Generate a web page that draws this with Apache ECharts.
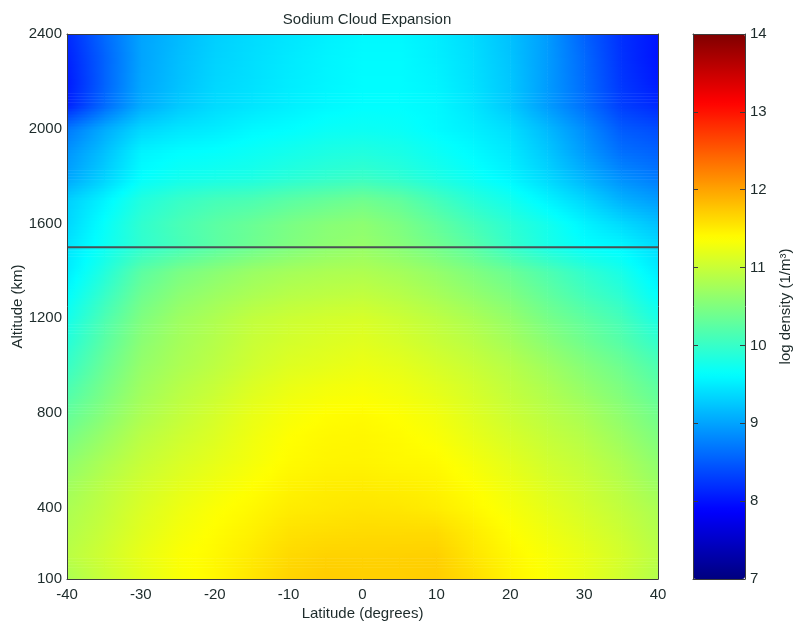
<!DOCTYPE html>
<html>
<head>
<meta charset="utf-8">
<script src="https://cdn.jsdelivr.net/npm/echarts@6/dist/echarts.min.js"></script>
<style>
  html, body { margin: 0; padding: 0; background: #fff; }
  #chart { width: 798px; height: 627px; }
</style>
</head>
<body>
<div id="chart"></div>
<script>
  // latitude nodes (degrees) and altitude nodes (km)
  var lats = [-40, -35, -30, -25, -20, -15, -10, -5, 0, 5, 10, 15, 20, 25, 30, 35, 40];
  var alts = [100, 200, 300, 400, 500, 600, 700, 800, 900, 1000, 1100, 1200,
              1300, 1400, 1500, 1600, 1700, 1800, 1900, 2000, 2100, 2200, 2300, 2400];
  // log density, one row per altitude (100 km first)
  var densityRows = [
    [10.80, 11.00, 11.18, 11.33, 11.42, 11.55, 11.67, 11.72, 11.70, 11.70, 11.72, 11.60, 11.45, 11.35, 11.22, 11.05, 10.85], // 100
    [10.90, 11.05, 11.22, 11.35, 11.42, 11.52, 11.63, 11.68, 11.68, 11.69, 11.70, 11.55, 11.43, 11.33, 11.22, 11.08, 10.90], // 200
    [10.85, 11.00, 11.17, 11.30, 11.39, 11.47, 11.57, 11.60, 11.62, 11.62, 11.62, 11.50, 11.38, 11.27, 11.15, 11.02, 10.85], // 300
    [10.80, 10.95, 11.12, 11.25, 11.35, 11.42, 11.50, 11.53, 11.55, 11.54, 11.50, 11.42, 11.32, 11.20, 11.08, 10.95, 10.80], // 400
    [10.72, 10.90, 11.06, 11.18, 11.28, 11.37, 11.45, 11.49, 11.50, 11.48, 11.45, 11.37, 11.26, 11.13, 11.02, 10.88, 10.70], // 500
    [10.60, 10.80, 10.98, 11.10, 11.20, 11.30, 11.40, 11.44, 11.45, 11.42, 11.40, 11.30, 11.18, 11.05, 10.95, 10.80, 10.60], // 600
    [10.45, 10.68, 10.90, 11.03, 11.14, 11.27, 11.37, 11.42, 11.43, 11.40, 11.34, 11.22, 11.10, 10.98, 10.87, 10.70, 10.50], // 700
    [10.30, 10.55, 10.80, 10.95, 11.08, 11.22, 11.32, 11.38, 11.40, 11.36, 11.28, 11.15, 11.02, 10.90, 10.78, 10.60, 10.40], // 800
    [10.15, 10.45, 10.72, 10.88, 11.00, 11.14, 11.24, 11.30, 11.33, 11.28, 11.19, 11.08, 10.95, 10.82, 10.66, 10.49, 10.28], // 900
    [10.00, 10.35, 10.65, 10.80, 10.92, 11.05, 11.15, 11.20, 11.25, 11.20, 11.10, 11.00, 10.88, 10.72, 10.55, 10.38, 10.15], // 1000
    [ 9.88, 10.25, 10.58, 10.75, 10.87, 11.00, 11.08, 11.13, 11.17, 11.10, 11.00, 10.90, 10.76, 10.58, 10.40, 10.22,  9.98], // 1100
    [ 9.75, 10.15, 10.50, 10.70, 10.82, 10.95, 11.02, 11.07, 11.10, 11.02, 10.92, 10.80, 10.65, 10.45, 10.28, 10.10,  9.80], // 1200
    [ 9.62, 10.00, 10.38, 10.58, 10.70, 10.80, 10.88, 10.92, 10.95, 10.88, 10.77, 10.64, 10.50, 10.30, 10.10,  9.93,  9.63], // 1300
    [ 9.50,  9.85, 10.25, 10.45, 10.57, 10.68, 10.75, 10.80, 10.82, 10.75, 10.64, 10.50, 10.35, 10.16,  9.96,  9.78,  9.50], // 1400
    [ 9.45,  9.70,  9.95, 10.10, 10.25, 10.38, 10.50, 10.60, 10.66, 10.56, 10.42, 10.24, 10.00,  9.80,  9.65,  9.58,  9.40], // 1500
    [ 9.35,  9.65,  9.95, 10.12, 10.25, 10.35, 10.46, 10.55, 10.60, 10.48, 10.30, 10.10,  9.92,  9.75,  9.55,  9.38,  9.20], // 1600
    [ 9.30,  9.55,  9.85, 10.00, 10.10, 10.15, 10.25, 10.33, 10.40, 10.30, 10.10,  9.90,  9.75,  9.55,  9.35,  9.10,  8.95], // 1700
    [ 9.00,  9.30,  9.62,  9.72,  9.76,  9.80,  9.88,  9.95, 10.00,  9.92,  9.80,  9.68,  9.55,  9.35,  9.10,  8.85,  8.70], // 1800
    [ 8.90,  9.20,  9.55,  9.62,  9.65,  9.70,  9.76,  9.82,  9.85,  9.80,  9.70,  9.60,  9.48,  9.25,  8.95,  8.65,  8.55], // 1900
    [ 8.70,  9.05,  9.35,  9.45,  9.50,  9.58,  9.62,  9.68,  9.70,  9.68,  9.60,  9.52,  9.40,  9.15,  8.85,  8.50,  8.40], // 2000
    [ 8.10,  8.60,  9.05,  9.25,  9.38,  9.45,  9.52,  9.58,  9.62,  9.62,  9.58,  9.45,  9.25,  8.95,  8.65,  8.30,  8.15], // 2100
    [ 8.05,  8.55,  9.02,  9.20,  9.35,  9.42,  9.50,  9.56,  9.61,  9.61,  9.55,  9.42,  9.24,  8.95,  8.62,  8.25,  8.05], // 2200
    [ 8.10,  8.55,  9.00,  9.18,  9.32,  9.40,  9.48,  9.55,  9.60,  9.60,  9.52,  9.40,  9.22,  8.95,  8.60,  8.22,  8.00], // 2300
    [ 8.15,  8.60,  9.00,  9.15,  9.30,  9.38,  9.45,  9.52,  9.58,  9.58,  9.50,  9.38,  9.20,  8.95,  8.55,  8.20,  8.00]  // 2400
  ];
  var boundaryAlt = 1500;           // horizontal marker line (km)
  var yTickValues = [100, 400, 800, 1200, 1600, 2000, 2400];
  var densityMin = 7, densityMax = 14;

  // matlab jet colormap anchors
  var jetColors = ['#00007f', '#0000ff', '#007fff', '#00ffff', '#7fff7f',
                   '#ffff00', '#ff7f00', '#ff0000', '#7f0000'];
  var jetRgb = jetColors.map(function (c) {
    return [parseInt(c.substr(1, 2), 16), parseInt(c.substr(3, 2), 16), parseInt(c.substr(5, 2), 16)];
  });
  function jet(v) {
    var t = (v - densityMin) / (densityMax - densityMin);
    t = Math.max(0, Math.min(1, t)) * (jetRgb.length - 1);
    var k = Math.min(Math.floor(t), jetRgb.length - 2);
    var f = t - k;
    var a = jetRgb[k], b = jetRgb[k + 1];
    return 'rgb(' + Math.round(a[0] + (b[0] - a[0]) * f) + ',' +
      Math.round(a[1] + (b[1] - a[1]) * f) + ',' +
      Math.round(a[2] + (b[2] - a[2]) * f) + ')';
  }

  var nodes = [];
  for (var j = 0; j < alts.length; j++) {
    for (var i = 0; i < lats.length; i++) {
      nodes.push([lats[i], alts[j], densityRows[j][i], i, j]);
    }
  }

  // shaded (interp) cell between four nodes
  function renderCell(params, api) {
    var i = api.value(3), j = api.value(4);
    if (i >= lats.length - 1 || j >= alts.length - 1) return null;
    var p0 = api.coord([lats[i], alts[j]]);
    var p1 = api.coord([lats[i + 1], alts[j + 1]]);
    var v00 = densityRows[j][i], v10 = densityRows[j][i + 1];
    var v01 = densityRows[j + 1][i], v11 = densityRows[j + 1][i + 1];
    var n = 8;
    var h = (p0[1] - p1[1]) / n;
    var w = p1[0] - p0[0];
    var kids = [];
    for (var k = 0; k < n; k++) {
      var f = (k + 0.5) / n;
      var vl = v00 + (v01 - v00) * f;
      var vr = v10 + (v11 - v10) * f;
      var stops = [];
      for (var s = 0; s <= 4; s++) {
        stops.push({ offset: s / 4, color: jet(vl + (vr - vl) * s / 4) });
      }
      kids.push({
        type: 'rect',
        shape: { x: p0[0], y: p0[1] - (k + 1) * h, width: w + 0.6, height: h + 0.6 },
        style: { fill: new echarts.graphic.LinearGradient(0, 0, 1, 0, stops) },
        silent: true
      });
    }
    return { type: 'group', children: kids };
  }

  var txt = '#1d2b2b';
  var font = 'Liberation Sans, Arial, sans-serif';
  var frame = '#3c3c3c';
  var plain = function (v) { return String(v); };

  var chart = echarts.init(document.getElementById('chart'));
  chart.setOption({
    animation: false,
    backgroundColor: '#fff',
    textStyle: { fontFamily: font },
    title: {
      text: 'Sodium Cloud Expansion',
      left: 362, top: 7, textAlign: 'center',
      textStyle: { fontSize: 15, fontWeight: 'normal', color: txt, fontFamily: font }
    },
    grid: [
      { left: 67, top: 34, width: 591, height: 545, outerBoundsMode: 'none', containLabel: false },
      { left: 693, top: 34, width: 52, height: 545, outerBoundsMode: 'none', containLabel: false }
    ],
    xAxis: [
      {
        gridIndex: 0, type: 'value', min: -40, max: 40, interval: 10,
        name: 'Latitude (degrees)', nameLocation: 'middle', nameGap: 27, nameMoveOverlap: false,
        nameTextStyle: { fontSize: 15, color: txt },
        axisLine: { onZero: false, lineStyle: { color: frame } },
        axisTick: { show: false },
        axisLabel: { fontSize: 15, color: txt, margin: 8, formatter: plain },
        splitLine: { show: false }, z: 5
      },
      {
        gridIndex: 0, type: 'value', min: -40, max: 40, position: 'top',
        axisLine: { onZero: false, lineStyle: { color: frame } },
        axisTick: { show: false }, axisLabel: { show: false },
        splitLine: { show: false }, z: 5
      },
      {
        gridIndex: 1, type: 'value', min: 0, max: 1,
        axisLine: { onZero: false, lineStyle: { color: frame } },
        axisTick: { show: false }, axisLabel: { show: false },
        splitLine: { show: false }, z: 5
      },
      {
        gridIndex: 1, type: 'value', min: 0, max: 1, position: 'top',
        axisLine: { onZero: false, lineStyle: { color: frame } },
        axisTick: { show: false }, axisLabel: { show: false },
        splitLine: { show: false }, z: 5
      }
    ],
    yAxis: [
      {
        gridIndex: 0, type: 'value', min: 100, max: 2400,
        name: 'Altitude (km)', nameLocation: 'middle', nameGap: 42, nameMoveOverlap: false,
        nameTextStyle: { fontSize: 15, color: txt },
        axisLine: { show: true, onZero: false, lineStyle: { color: frame } },
        axisTick: { show: false },
        axisLabel: { fontSize: 15, color: txt, margin: 5, customValues: yTickValues, formatter: plain },
        splitLine: { show: false }, z: 5
      },
      {
        gridIndex: 0, type: 'value', min: 100, max: 2400, position: 'right',
        axisLine: { show: true, onZero: false, lineStyle: { color: frame } },
        axisTick: { show: false }, axisLabel: { show: false },
        splitLine: { show: false }, z: 5
      },
      {
        gridIndex: 1, type: 'value', min: densityMin, max: densityMax, interval: 1, position: 'right',
        name: 'log density (1/m³)', nameLocation: 'middle', nameGap: 33, nameRotate: 90, nameMoveOverlap: false,
        nameTextStyle: { fontSize: 15, color: txt },
        axisLine: { show: true, onZero: false, lineStyle: { color: frame } },
        axisTick: { show: true, inside: true, length: 5, lineStyle: { color: frame } },
        axisLabel: { fontSize: 15, color: txt, margin: 5, formatter: plain },
        splitLine: { show: false }, z: 5
      },
      {
        gridIndex: 1, type: 'value', min: densityMin, max: densityMax, interval: 1, position: 'left',
        axisLine: { show: true, onZero: false, lineStyle: { color: frame } },
        axisTick: { show: true, inside: true, length: 5, lineStyle: { color: frame } },
        axisLabel: { show: false },
        splitLine: { show: false }, z: 5
      }
    ],
    visualMap: {
      type: 'continuous', min: densityMin, max: densityMax,
      dimension: 2, seriesIndex: 0,
      left: 693, top: 34, itemWidth: 52, itemHeight: 545, padding: 0,
      calculable: false, text: null, showLabel: false,
      inRange: { color: jetColors }
    },
    series: [
      {
        type: 'custom', name: 'log density',
        xAxisIndex: 0, yAxisIndex: 0,
        data: nodes,
        encode: { x: 0, y: 1 },
        renderItem: renderCell,
        silent: true, z: 1
      },
      {
        type: 'line', name: 'boundary',
        xAxisIndex: 0, yAxisIndex: 0,
        data: [[lats[0], boundaryAlt], [lats[lats.length - 1], boundaryAlt]],
        symbol: 'none',
        lineStyle: { color: '#4a5054', width: 2 },
        silent: true, z: 3
      }
    ]
  });
</script>
</body>
</html>
